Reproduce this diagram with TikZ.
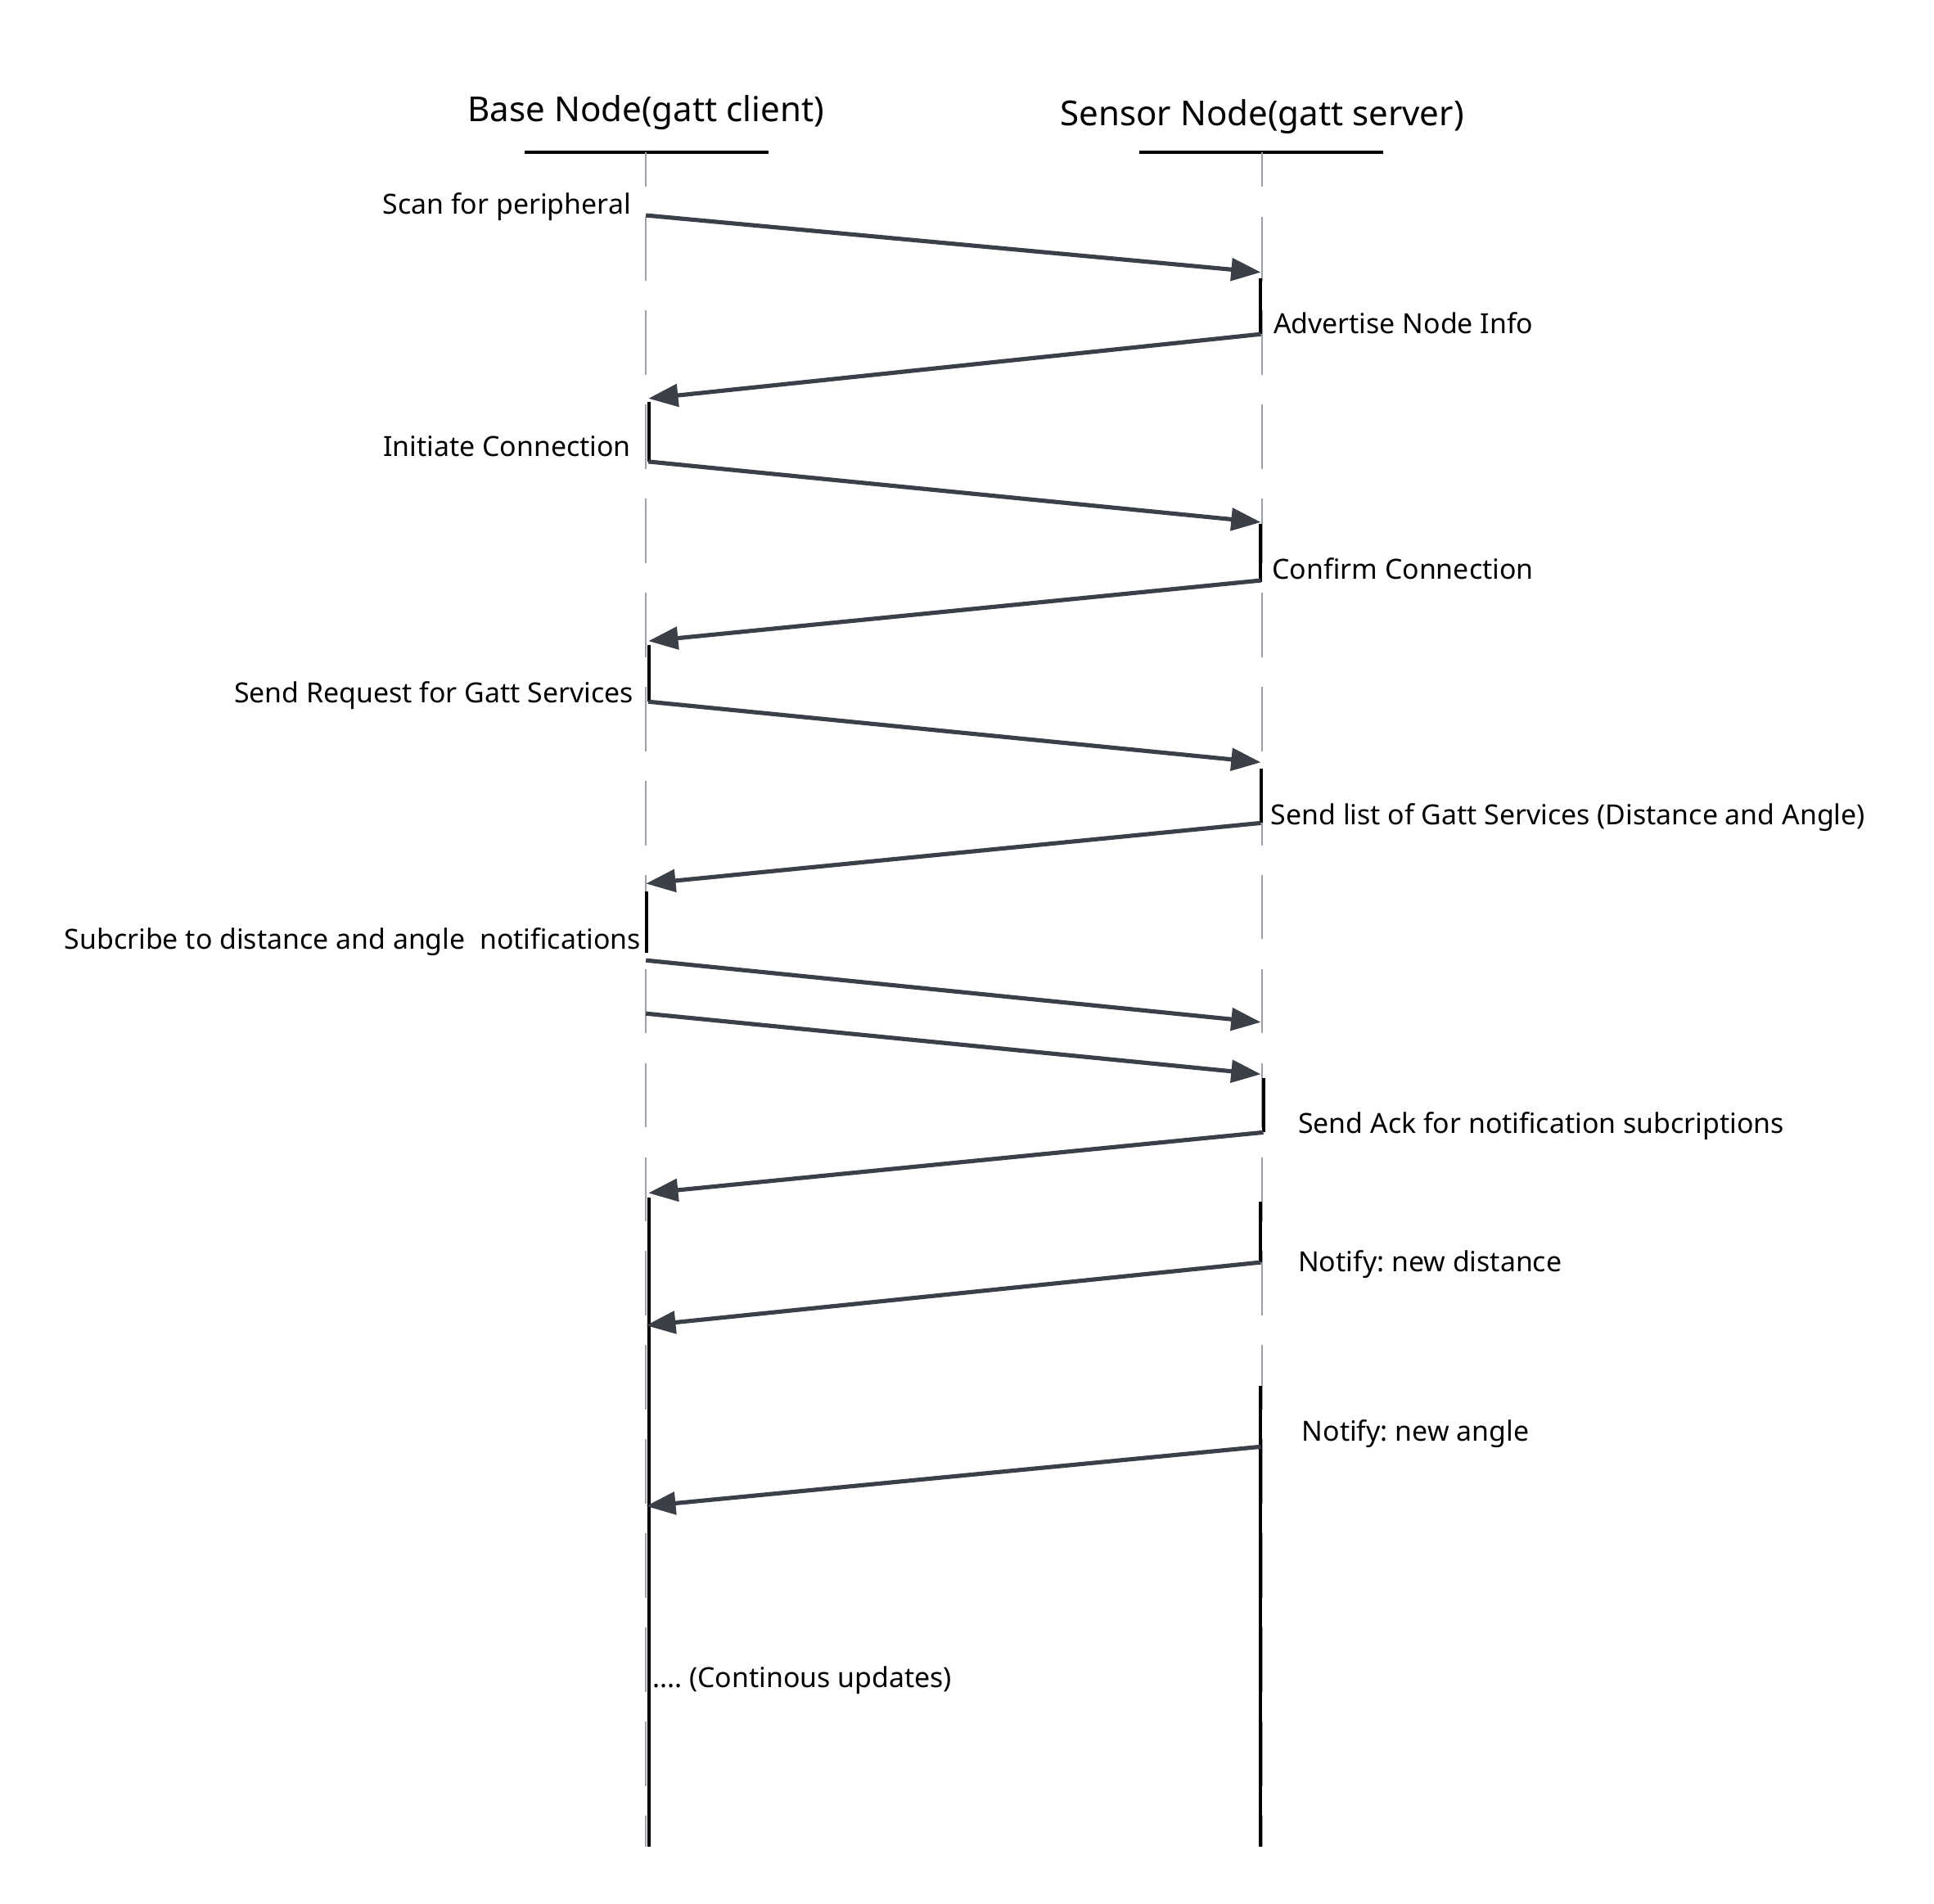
\documentclass[tikz,border=0pt]{standalone}
\usepackage{fontspec}
\setmainfont{Noto Sans}
\usetikzlibrary{arrows.meta}
\definecolor{arrowc}{HTML}{3B3F47}
\definecolor{lifec}{HTML}{9CA1A9}
\tikzset{
  msg/.style={draw=arrowc, line width=3.4pt, -{Triangle[length=24pt,width=18pt]}},
  life/.style={draw=lifec, line width=1.6pt, dash pattern=on 52pt off 24pt, dash phase=24pt},
  actbar/.style={draw=black, line width=2.6pt},
  head/.style={font=\fontsize{27.8}{32}\selectfont, inner sep=0pt},
  lbl/.style={font=\fontsize{22.4}{26}\selectfont, inner sep=0pt},
  uline/.style={draw=black, line width=2.6pt}
}
\frenchspacing
\begin{document}
\begin{tikzpicture}[x=1pt,y=-1pt]
\useasboundingbox (0,0) rectangle (1563,1538);
\fill[white] (0,0) rectangle (1563,1538);
% headers
\node[head] (hb) at (522,91) {Base Node(gatt client)};
\node[head] (hs) at (1020,94) {Sensor Node(gatt server)};
\coordinate (ub1) at (424,123); \coordinate (ub2) at (621,123);
\coordinate (us1) at (921,123); \coordinate (us2) at (1118,123);
\draw[uline] (ub1) -- (ub2);
\draw[uline] (us1) -- (us2);
% lifelines
\coordinate (bt) at (522,123); \coordinate (bb) at (522,1492);
\coordinate (st) at (1020,123); \coordinate (sb) at (1020,1492);
\draw[life] (bt) -- (bb);
\draw[life] (st) -- (sb);
% activation bars
\foreach \a/\b/\x in {225/270/1018.5, 423/470/1018.5, 621/665/1019, 871/915/1021, 971/1020/1018.5, 1120/1492/1018.5, 325/373/524.5, 521/567/524.5, 720/770/522.5, 968/1492/524.5}{
  \draw[actbar] (\x,\a) -- (\x,\b);
}
% message endpoints
\coordinate (b1) at (522,174);  \coordinate (s1) at (1019,220);
\coordinate (s2) at (1019,270); \coordinate (b2) at (524,322);
\coordinate (b3) at (524,373);  \coordinate (s3) at (1019,422);
\coordinate (s4) at (1019,469); \coordinate (b4) at (524,518);
\coordinate (b5) at (524,567);  \coordinate (s5) at (1019,616);
\coordinate (s6) at (1019,665); \coordinate (b6) at (522,714);
\coordinate (b7) at (522,776);  \coordinate (s7) at (1019,826);
\coordinate (b8) at (522,819);  \coordinate (s8) at (1019,868);
\coordinate (s9) at (1021,915); \coordinate (b9) at (524,964);
\coordinate (s10) at (1019,1020); \coordinate (b10) at (522,1071);
\coordinate (s11) at (1019,1169); \coordinate (b11) at (522,1217);
\foreach \p/\q in {b1/s1, s2/b2, b3/s3, s4/b4, b5/s5, s6/b6, b7/s7, b8/s8, s9/b9, s10/b10, s11/b11}{
  \draw[msg] (\p) -- (\q);
}
% labels
\node[lbl, anchor=mid east] (l1) at (510,170) {Scan for peripheral};
\node[lbl, anchor=mid west] (l2) at (1029,267) {Advertise Node Info};
\node[lbl, anchor=mid east] (l3) at (510,366) {Initiate Connection};
\node[lbl, anchor=mid west] (l4) at (1028,465) {Confirm Connection};
\node[lbl, anchor=mid east] (l5) at (512,565) {Send Request for Gatt Services};
\node[lbl, anchor=mid west] (l6) at (1027,664) {Send list of Gatt Services (Distance and Angle)};
\node[lbl, anchor=mid east] (l7) at (518,764) {Subcribe to distance and angle\ \ notifications};
\node[lbl, anchor=mid west] (l9) at (1049,913) {Send Ack for notification subcriptions};
\node[lbl, anchor=mid west] (l10) at (1049,1025) {Notify: new distance};
\node[lbl, anchor=mid west] (l11) at (1052,1162) {Notify: new angle};
\node[lbl, anchor=mid west] (l12) at (527,1361) {.... (Continous updates)};
\end{tikzpicture}
\end{document}
